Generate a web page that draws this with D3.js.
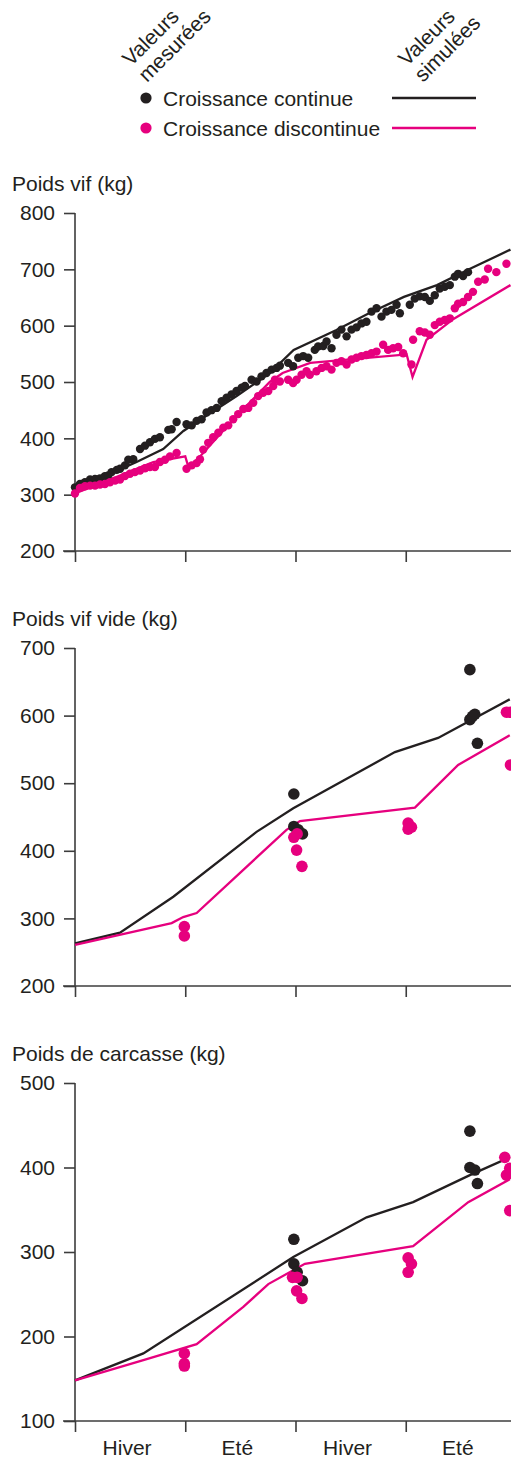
<!DOCTYPE html>
<html>
<head>
<meta charset="utf-8">
<script src="https://cdn.jsdelivr.net/npm/d3@7/dist/d3.min.js"></script>
<style>
  body { margin: 0; background: #fff; }
  svg { display: block; font-family: "Liberation Sans", Arial, sans-serif; }
  .axis path, .axis line { stroke: #3c3c3c; stroke-width: 1.6; }
  .axis text { font-size: 21px; fill: #231f20; font-family: "Liberation Sans", Arial, sans-serif; }
</style>
</head>
<body>
<div id="chart"></div>
<script>
// x values are months from start (each tick = 6 months), y values are kg
const tickMonths = [0, 6, 12, 18, 24];
const seasons = ["Hiver", "Eté", "Hiver", "Eté"];

// --- Poids vif ---
const vifContMes = [[0.00,313],[0.27,319],[0.54,322],[0.82,327],[1.09,328],[1.36,329],[1.63,333],[1.81,334],[1.99,340],[2.27,344],[2.45,346],[2.72,352],[2.90,362],[3.17,363],[3.54,381],[3.81,387],[4.08,393],[4.35,399],[4.62,402],[5.08,415],[5.26,416],[5.53,429],[6.07,425],[6.35,423],[6.62,431],[6.89,434],[7.16,446],[7.43,450],[7.71,454],[7.98,466],[8.25,472],[8.52,478],[8.79,484],[9.07,490],[9.25,493],[9.61,504],[9.88,501],[10.15,510],[10.42,516],[10.70,522],[10.97,525],[11.15,529],[11.60,534],[11.87,528],[12.15,543],[12.42,546],[12.69,543],[13.05,557],[13.23,563],[13.51,564],[13.69,572],[13.96,560],[14.23,584],[14.50,593],[14.78,581],[15.05,593],[15.32,597],[15.59,604],[15.86,607],[16.14,625],[16.41,631],[16.68,616],[16.95,625],[17.22,628],[17.50,637],[17.68,622],[18.22,637],[18.49,648],[18.76,652],[19.04,651],[19.31,644],[19.58,654],[19.85,666],[20.12,669],[20.40,672],[20.67,687],[20.85,692],[21.12,688],[21.39,695]];
const vifDiscMes = [[0.00,302],[0.27,312],[0.54,315],[0.82,316],[1.09,316],[1.36,318],[1.63,319],[1.90,322],[2.18,325],[2.45,327],[2.72,333],[2.99,337],[3.26,340],[3.54,343],[3.81,347],[4.08,349],[4.35,349],[4.62,358],[4.90,362],[5.17,368],[5.53,374],[6.07,346],[6.35,352],[6.62,356],[6.80,363],[6.98,380],[7.25,392],[7.52,402],[7.80,410],[8.07,419],[8.34,423],[8.61,434],[8.88,443],[9.16,452],[9.43,454],[9.70,463],[9.97,475],[10.24,481],[10.52,484],[10.79,493],[10.88,504],[11.15,501],[11.60,504],[11.87,498],[12.06,504],[12.33,513],[12.60,519],[12.78,513],[13.14,519],[13.42,525],[13.69,528],[13.96,522],[14.23,534],[14.50,537],[14.78,531],[15.05,540],[15.32,543],[15.59,546],[15.86,548],[16.14,551],[16.41,554],[16.77,566],[17.04,557],[17.31,560],[17.59,562],[17.86,551],[18.31,531],[18.40,575],[18.76,590],[19.04,588],[19.31,584],[19.58,601],[19.85,607],[20.12,610],[20.40,613],[20.67,631],[20.85,639],[21.12,642],[21.39,651],[21.66,660],[21.94,678],[22.30,682],[22.48,701],[22.93,695],[23.48,710]];
const vifContSim = [[0,313],[1.54,334],[2.45,345],[3.35,358],[4.8,381],[5.9,413],[7.0,437],[8.8,475],[10.6,516],[11.9,557],[14.2,592],[16.0,622],[17.9,651],[19.7,672],[21.5,701],[23.7,735]];
const vifDiscSim = [[0,302],[1.54,322],[3.35,346],[4.26,358],[6.0,368],[6.2,346],[7.0,375],[8.8,440],[10.6,500],[11.3,516],[12.8,534],[18.05,549],[18.37,509],[19.13,575],[20.6,612],[23.7,672]];

// --- Poids vif vide ---
const videContMes = [[11.91,484],[11.91,436],[12.15,431],[12.38,425],[21.49,668],[21.76,602],[21.49,594],[21.63,599],[21.90,559]];
const videDiscMes = [[5.95,288],[5.95,274],[11.91,420],[12.09,425],[12.06,401],[12.35,377],[18.13,441],[18.31,435],[18.13,432],[23.48,605],[23.70,605],[23.70,527]];
const videContSim = [[0,263],[2.45,279],[5.35,332],[9.88,428],[11.88,463],[17.41,546],[19.76,567],[23.66,624]];
const videDiscSim = [[0,261],[5.26,293],[5.89,302],[6.62,308],[11.51,431],[12.24,444],[18.5,464],[20.85,527],[23.66,571]];

// --- Poids de carcasse ---
const carcContMes = [[11.91,315],[11.91,286],[12.09,276],[12.38,266],[21.49,443],[21.49,400],[21.76,397],[21.90,381]];
const carcDiscMes = [[5.95,180],[5.95,168],[5.95,165],[11.84,270],[12.09,270],[12.06,254],[12.35,245],[18.13,293],[18.31,286],[18.13,276],[23.39,412],[23.66,399],[23.48,391],[23.66,349]];
const carcContSim = [[0,148],[3.72,180],[11.88,294],[15.87,341],[18.4,359],[21.49,391],[23.66,412]];
const carcDiscSim = [[0,148],[3.72,172],[6.62,191],[9.16,235],[10.52,262],[12.51,286],[18.4,307],[21.4,359],[23.66,386]];

const colCont = "#231f20";
const colDisc = "#e6007e";

const width = 511, height = 1459;
const svg = d3.select("#chart").append("svg")
  .attr("width", width).attr("height", height);

const x = d3.scaleLinear().domain([0, 24]).range([75, 516]);

const panels = [
  { title: "Poids vif (kg)", domain: [200, 800], ticks: d3.range(200, 801, 100), top: 213, r: 4.2,
    contMes: vifContMes, discMes: vifDiscMes, contSim: vifContSim, discSim: vifDiscSim },
  { title: "Poids vif vide (kg)", domain: [200, 700], ticks: d3.range(200, 701, 100), top: 648, r: 5.8,
    contMes: videContMes, discMes: videDiscMes, contSim: videContSim, discSim: videDiscSim },
  { title: "Poids de carcasse (kg)", domain: [100, 500], ticks: d3.range(100, 501, 100), top: 1083, r: 5.8,
    contMes: carcContMes, discMes: carcDiscMes, contSim: carcContSim, discSim: carcDiscSim }
];
const panelH = 338;

svg.append("defs").append("clipPath").attr("id", "clip")
  .append("rect").attr("x", 0).attr("y", 0).attr("width", width).attr("height", height);

panels.forEach((p, i) => {
  const bottom = p.top + panelH;
  const y = d3.scaleLinear().domain(p.domain).range([bottom, p.top]);
  const g = svg.append("g");

  g.append("text")
    .attr("x", 12).attr("y", p.top - 22)
    .attr("font-size", 21).attr("fill", "#231f20")
    .text(p.title);

  // y axis
  g.append("g").attr("class", "axis")
    .attr("transform", `translate(${x(0)},0)`)
    .call(d3.axisLeft(y).tickValues(p.ticks).tickSize(11).tickPadding(9).tickSizeOuter(0))
    .call(a => a.select(".domain").attr("d", `M0,${p.top}V${bottom}`));

  // x axis
  const xa = g.append("g").attr("class", "axis")
    .attr("transform", `translate(0,${bottom})`)
    .call(d3.axisBottom(x).tickValues(tickMonths).tickSize(11).tickFormat(""))
  xa.select(".domain").attr("d", `M63,0H${width}`);

  const line = d3.line().x(d => x(d[0])).y(d => y(d[1]));
  const plot = g.append("g").attr("clip-path", "url(#clip)");

  plot.append("path").datum(p.contSim)
    .attr("d", line).attr("fill", "none")
    .attr("stroke", colCont).attr("stroke-width", 2.3).attr("stroke-linejoin", "miter");
  plot.append("path").datum(p.discSim)
    .attr("d", line).attr("fill", "none")
    .attr("stroke", colDisc).attr("stroke-width", 2.3).attr("stroke-linejoin", "miter");

  plot.selectAll(".dc").data(p.contMes).enter().append("circle")
    .attr("cx", d => x(d[0])).attr("cy", d => y(d[1]))
    .attr("r", p.r).attr("fill", colCont);
  plot.selectAll(".dd").data(p.discMes).enter().append("circle")
    .attr("cx", d => x(d[0])).attr("cy", d => y(d[1]))
    .attr("r", p.r).attr("fill", colDisc);

  if (i === panels.length - 1) {
    g.selectAll(".season").data(seasons).enter().append("text")
      .attr("x", (d, k) => (x(tickMonths[k]) + x(tickMonths[k + 1])) / 2 - 3)
      .attr("y", bottom + 34)
      .attr("text-anchor", "middle")
      .attr("font-size", 21).attr("fill", "#231f20")
      .text(d => d);
  }
});

// legend
const leg = svg.append("g").attr("font-size", 21).attr("fill", "#231f20");
[["Valeurs", 131, 67], ["mesurées", 147, 83], ["Valeurs", 407, 67], ["simulées", 423, 83]].forEach(t => {
  leg.append("text")
    .attr("transform", `translate(${t[1]},${t[2]}) rotate(-45)`)
    .text(t[0]);
});

const legItems = [
  { label: "Croissance continue", color: colCont, y: 98 },
  { label: "Croissance discontinue", color: colDisc, y: 128 }
];
legItems.forEach(it => {
  leg.append("circle").attr("cx", 146).attr("cy", it.y).attr("r", 5.6).attr("fill", it.color);
  leg.append("text").attr("x", 163).attr("y", it.y + 8).text(it.label);
  leg.append("line").attr("x1", 392).attr("x2", 476).attr("y1", it.y).attr("y2", it.y)
    .attr("stroke", it.color).attr("stroke-width", 2.3);
});
</script>
</body>
</html>
